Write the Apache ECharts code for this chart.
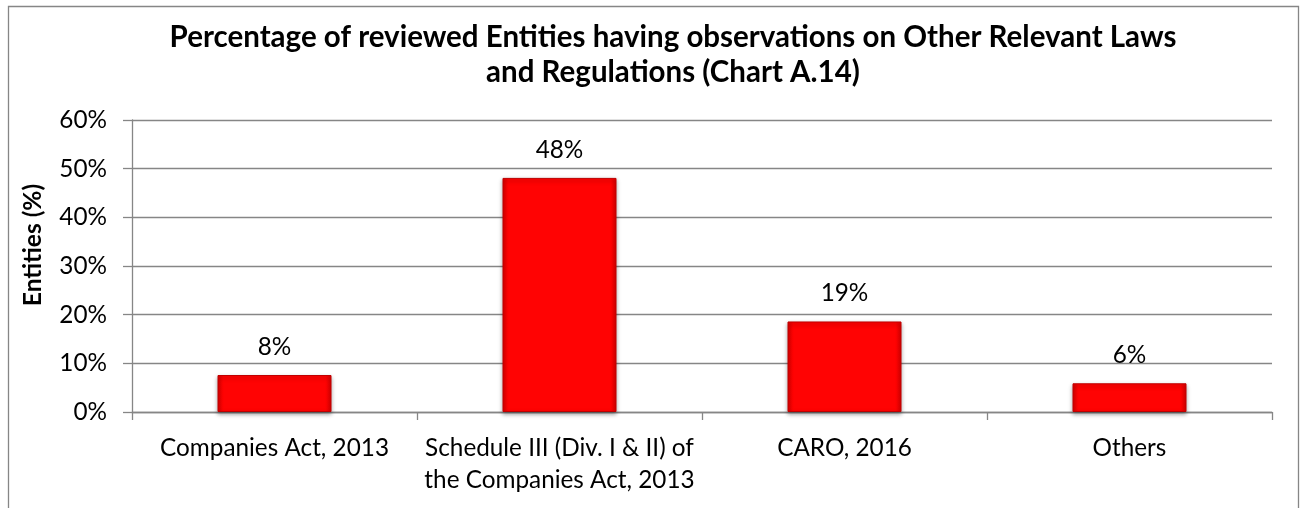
<!DOCTYPE html>
<html>
<head>
<meta charset="utf-8">
<script src="https://cdn.jsdelivr.net/npm/echarts@6/dist/echarts.min.js"></script>
<style>
html,body{margin:0;padding:0;background:#fff;}
#chart{width:1307px;height:508px;}
</style>
</head>
<body>
<div id="chart"></div>
<script>
const titleLines = ['Percentage of reviewed Entities having observations on Other Relevant Laws', 'and Regulations (Chart A.14)'];
const categories = ['Companies Act, 2013', 'Schedule III (Div. I & II) of\nthe Companies Act, 2013', 'CARO, 2016', 'Others'];
const values = [0.076, 0.481, 0.186, 0.059];
const yTicks = [0, 0.1, 0.2, 0.3, 0.4, 0.5, 0.6];
const yAxisName = 'Entities (%)';

const FONT = 'Lato';
const chart = echarts.init(document.getElementById('chart'), null, {renderer: 'canvas'});
const gray = '#868686';
const pct = v => Math.round(v * 100) + '%';

chart.setOption({
  animation: false,
  backgroundColor: '#fff',
  textStyle: {fontFamily: FONT},
  title: {
    text: titleLines.join('\n'),
    left: 673,
    top: 20,
    textAlign: 'center',
    padding: 0,
    textStyle: {fontFamily: FONT, fontWeight: 'bold', fontSize: 29.5, lineHeight: 35, color: '#000'}
  },
  graphic: [
    {type: 'rect', shape: {x: 8.5, y: 6.5, width: 1290, height: 520}, style: {fill: 'none', stroke: gray, lineWidth: 1.3}, silent: true},
    {type: 'text', x: 33, y: 245, rotation: Math.PI / 2,
      style: {text: yAxisName, fontFamily: FONT, fontWeight: 'bold', fontSize: 24.5, fill: '#000', align: 'center', verticalAlign: 'middle'}}
  ],
  grid: {left: 132, right: 35, top: 120, bottom: 96, containLabel: false},
  xAxis: {
    type: 'category',
    data: categories,
    axisLine: {lineStyle: {color: gray, width: 1.3}},
    axisTick: {show: true, alignWithLabel: false, length: 8, lineStyle: {color: gray, width: 1.3}},
    axisLabel: {color: '#000', fontFamily: FONT, fontSize: 24.3, lineHeight: 32, margin: 20, interval: 0}
  },
  yAxis: {
    type: 'value',
    min: yTicks[0],
    max: yTicks[yTicks.length - 1],
    interval: yTicks[1] - yTicks[0],
    axisLine: {show: true, lineStyle: {color: gray, width: 1.3}},
    axisTick: {show: true, length: 9, lineStyle: {color: gray, width: 1.3}},
    splitLine: {show: true, lineStyle: {color: gray, width: 1.3}},
    axisLabel: {color: '#000', fontFamily: FONT, fontSize: 24.3, margin: 25, formatter: v => pct(v)}
  },
  series: [{
    type: 'bar',
    data: values,
    barWidth: '40%',
    itemStyle: {
      color: {type: 'linear', x: 0, y: 0, x2: 1, y2: 0, colorStops: [
        {offset: 0, color: '#d80000'}, {offset: 0.05, color: '#ff0303'},
        {offset: 0.95, color: '#ff0303'}, {offset: 1, color: '#d80000'}]},
      borderColor: '#c00000',
      borderWidth: 1,
      shadowColor: 'rgba(0,0,0,0.35)',
      shadowBlur: 4,
      shadowOffsetY: 2
    },
    label: {show: true, position: 'top', distance: 16, color: '#000', fontFamily: FONT, fontSize: 24.3, formatter: p => pct(p.value)}
  }]
});
</script>
</body>
</html>
